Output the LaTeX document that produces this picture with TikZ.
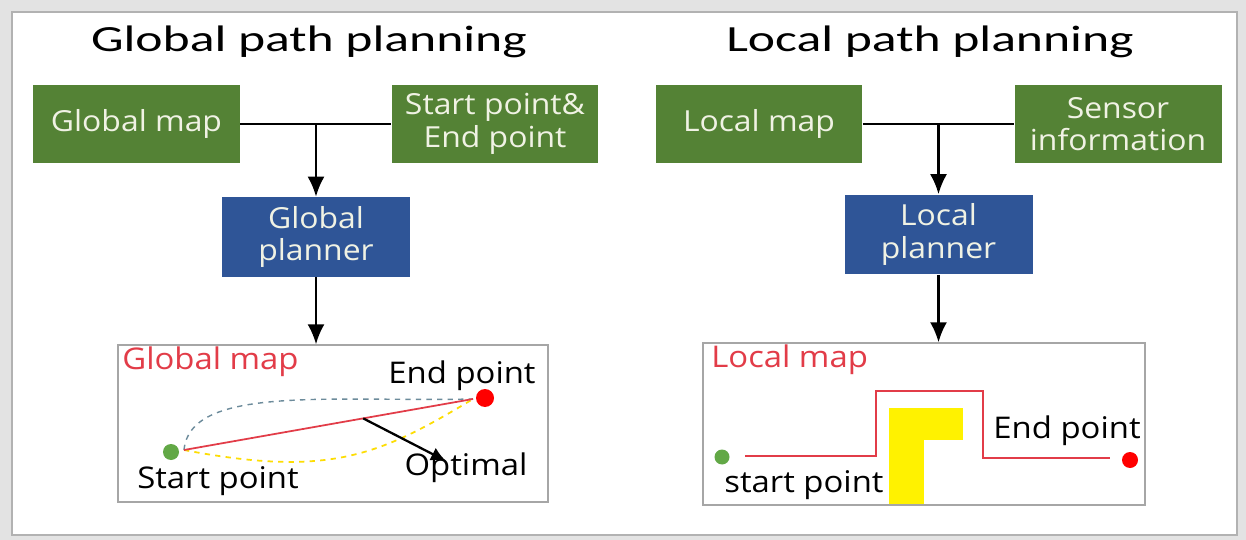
\documentclass[tikz,border=0pt]{standalone}
\usepackage{fontspec}
\setmainfont{Open Sans}[FakeStretch=1.1]
\newfontfamily\titlefont{Carlito}[FakeStretch=1.4]
\usetikzlibrary{arrows.meta,calc}

\definecolor{boxgreen}{RGB}{84,130,53}
\definecolor{boxblue}{RGB}{47,85,151}
\definecolor{boxtext}{RGB}{240,242,228}
\definecolor{pathred}{RGB}{226,60,72}
\definecolor{dotgreen}{RGB}{98,168,70}

\tikzset{
    inbox/.style={fill=boxgreen, text=boxtext, minimum width=4.14cm, minimum height=1.56cm,
        align=center, font=\fontsize{16.5}{18.5}\selectfont, inner sep=0pt},
    planbox/.style={fill=boxblue, text=boxtext, minimum width=3.76cm, minimum height=1.6cm,
        align=center, font=\fontsize{16.5}{18.5}\selectfont, inner sep=0pt},
    mapbox/.style={draw=gray!70, fill=white, line width=0.8pt, inner sep=0pt},
    flow/.style={line width=1.3pt, -{Latex[length=4mm,width=3.4mm]}},
    dot/.style={circle, inner sep=0pt, minimum size=#1},
    maptext/.style={font=\fontsize{17}{20}\selectfont, inner sep=0pt},
    headtext/.style={font=\titlefont\fontsize{21}{24}\selectfont, inner sep=0pt}
}

\begin{document}
\begin{tikzpicture}[x=0.02cm, y=-0.02cm]

    % frame
    \fill[gray!22] (0,0) rectangle (1246,540);
    \draw[gray!60, fill=white, line width=1pt] (12,12) rectangle (1237,535);

    % global side
    \node[headtext] (ghead) at (309,42) {Global path planning};
    \node[inbox] (gmap) at (136.5,124) {Global map};
    \node[inbox] (gse) at (495,124) {Start point\&\\End point};
    \node[planbox] (gplan) at (316,237) {Global\\planner};
    \node[mapbox, minimum width=8.6cm, minimum height=3.14cm] (gbox) at (333,423.5) {};

    \draw[line width=1.3pt] (gmap.east) -- (gse.west);
    \draw[flow] (gplan.north |- gmap.east) -- (gplan.north);
    \draw[flow] (gplan.south) -- (gbox.north -| gplan.south);

    \node[maptext, text=pathred, anchor=west] (gtitle) at (122,362) {Global map};
    \node[dot=0.32cm, fill=dotgreen] (gs) at (171,452) {};
    \node[dot=0.36cm, fill=red] (ge) at (485,398) {};
    \node[maptext] (gend) at (462,376) {End point};
    \node[maptext] (gstart) at (218,481) {Start point};
    \node[maptext] (gopt) at (466,468) {Optimal};

    \coordinate (g0) at (184,450);
    \coordinate (g1) at (473,399);
    \draw[gray!60!cyan!80!black, dashed, line width=0.8pt] (g0) .. controls (190,385) and (330,402) .. (g1);
    \draw[yellow!80!orange, dashed, line width=1pt] (g0) .. controls (330,478) and (380,455) .. (g1);
    \draw[pathred, line width=1pt] (g0) -- (g1);
    \draw[line width=1.3pt, -{Latex[length=3mm,width=2.8mm]}] ($(g0)!0.62!(g1)$) -- (446,461);

    % local side
    \node[headtext] (lhead) at (930,42) {Local path planning};
    \node[inbox] (lmap) at (759,124) {Local map};
    \node[inbox] (lsens) at (1118,124) {Sensor\\information};
    \node[planbox] (lplan) at (938.5,234.5) {Local\\planner};
    \node[mapbox, minimum width=8.84cm, minimum height=3.24cm] (lbox) at (924,424) {};

    \draw[line width=1.3pt] (lmap.east) -- (lsens.west);
    \draw[flow] (lplan.north |- lmap.east) -- (lplan.north);
    \draw[flow] (lplan.south) -- (lbox.north -| lplan.south);

    \node[maptext, text=pathred, anchor=west] (ltitle) at (711,360) {Local map};
    \fill[yellow] (889,408) rectangle (924,504);
    \fill[yellow] (889,408) rectangle (963,440);
    \node[dot=0.3cm, fill=dotgreen] (ls) at (722,457) {};
    \node[dot=0.32cm, fill=red] (le) at (1130,460) {};
    \node[maptext] (lend) at (1067,431) {End point};
    \node[maptext] (lstart) at (804,485) {start point};

    \coordinate (l0) at (745,456);
    \coordinate (l1) at (1110,458);
    \draw[pathred, line width=1pt] (l0) -- (876,456) -- (876,391) -- (983,391) -- (983,458) -- (l1);

\end{tikzpicture}
\end{document}
